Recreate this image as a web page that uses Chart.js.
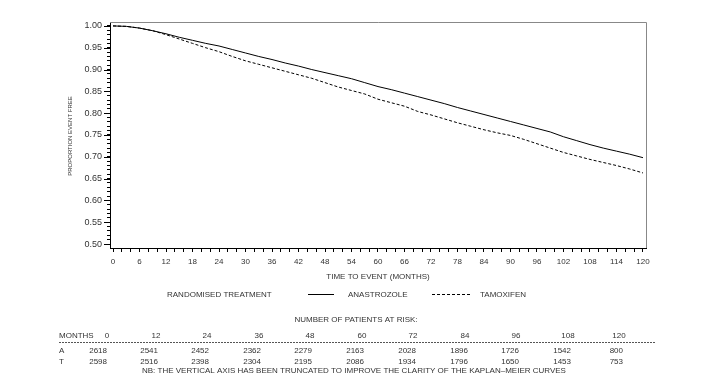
<!DOCTYPE html>
<html>
<head>
<meta charset="utf-8">
<script src="https://cdn.jsdelivr.net/npm/chart.js@4"></script>
<style>
html,body{margin:0;padding:0;background:#fff;}
canvas{display:block;}
</style>
</head>
<body>
<canvas id="c" width="712" height="392"></canvas>
<script>
// ---- data ----
const months = [0,3,6,9,12,15,18,21,24,27,30,33,36,39,42,45,48,51,54,57,60,63,66,69,72,75,78,81,84,87,90,93,96,99,102,105,108,111,114,117,120];
const anastrozole = [1.000,0.999,0.995,0.989,0.982,0.974,0.967,0.960,0.954,0.946,0.938,0.930,0.923,0.915,0.908,0.900,0.893,0.886,0.879,0.870,0.861,0.854,0.846,0.838,0.830,0.822,0.813,0.805,0.797,0.789,0.781,0.773,0.765,0.757,0.746,0.737,0.728,0.720,0.713,0.706,0.698];
const tamoxifen = [1.000,0.999,0.995,0.989,0.980,0.970,0.960,0.950,0.941,0.930,0.920,0.912,0.904,0.896,0.888,0.880,0.870,0.860,0.852,0.844,0.832,0.824,0.816,0.804,0.796,0.787,0.778,0.770,0.762,0.755,0.749,0.740,0.730,0.720,0.710,0.702,0.694,0.687,0.680,0.672,0.663];
const riskMonths = [0,12,24,36,48,60,72,84,96,108,120];
const riskA = [2618,2541,2452,2362,2279,2163,2028,1896,1726,1542,800];
const riskT = [2598,2516,2398,2304,2195,2086,1934,1796,1650,1453,753];
const seriesNames = ['ANASTROZOLE','TAMOXIFEN'];

const FONT = '"Liberation Sans", Arial, sans-serif';
const TXT = '#333';

// layout of risk table columns (pixels)
const headX = [107,156,207,259,310,362,413,465,516,568,619];
const valRight = [107,158,209,261,312,364,416,468,519,571,623];

const extras = {
  id: 'extras',
  afterDraw(chart) {
    const ctx = chart.ctx, a = chart.chartArea, y = chart.scales.y;
    ctx.save();
    // frame top/right
    ctx.strokeStyle = '#888'; ctx.lineWidth = 1;
    ctx.beginPath();
    ctx.moveTo(a.left, a.top + 0.5); ctx.lineTo(a.right + 0.5, a.top + 0.5); ctx.lineTo(a.right + 0.5, a.bottom);
    ctx.stroke();
    // longer major y ticks
    ctx.strokeStyle = '#000';
    ctx.beginPath();
    for (let i = 50; i <= 100; i += 5) {
      const py = Math.round(y.getPixelForValue(i / 100)) + 0.5;
      ctx.moveTo(a.left - 6, py); ctx.lineTo(a.left, py);
    }
    ctx.stroke();
    ctx.fillStyle = TXT;
    ctx.font = '6px ' + FONT;
    // y title
    ctx.save();
    ctx.translate(70, 136); ctx.rotate(-Math.PI / 2);
    ctx.textAlign = 'center'; ctx.textBaseline = 'middle';
    ctx.fillText('PROPORTION EVENT FREE', 0, 0);
    ctx.restore();
    ctx.font = '8px ' + FONT;
    ctx.textBaseline = 'middle';
    ctx.textAlign = 'center';
    ctx.fillText('TIME TO EVENT (MONTHS)', 378, 277);
    // legend
    ctx.textAlign = 'left';
    ctx.fillText('RANDOMISED TREATMENT', 167, 295);
    ctx.fillText(seriesNames[0], 348, 295);
    ctx.fillText(seriesNames[1], 480, 295);
    ctx.strokeStyle = '#000';
    ctx.beginPath(); ctx.moveTo(308, 294.5); ctx.lineTo(334, 294.5); ctx.stroke();
    ctx.setLineDash([3, 2]);
    ctx.beginPath(); ctx.moveTo(432, 294.5); ctx.lineTo(471, 294.5); ctx.stroke();
    // table
    ctx.textAlign = 'center';
    ctx.fillText('NUMBER OF PATIENTS AT RISK:', 356, 320);
    ctx.textAlign = 'left';
    ctx.fillText('MONTHS', 59, 336);
    ctx.fillText('A', 59, 351);
    ctx.fillText('T', 59, 362);
    riskMonths.forEach((m, i) => {
      ctx.textAlign = 'center';
      ctx.fillText(String(m), headX[i], 336);
      ctx.textAlign = 'right';
      ctx.fillText(String(riskA[i]), valRight[i], 351);
      ctx.fillText(String(riskT[i]), valRight[i], 362);
    });
    ctx.strokeStyle = '#555';
    ctx.setLineDash([2, 1]);
    ctx.beginPath(); ctx.moveTo(59, 342.5); ctx.lineTo(656, 342.5); ctx.stroke();
    ctx.setLineDash([]);
    ctx.textAlign = 'left';
    ctx.fillText('NB: THE VERTICAL AXIS HAS BEEN TRUNCATED TO IMPROVE THE CLARITY OF THE KAPLAN\u2013MEIER CURVES', 142, 371);
    ctx.restore();
  }
};

new Chart(document.getElementById('c'), {
  type: 'line',
  data: {
    datasets: [
      { label: seriesNames[0], data: months.map((m, i) => ({x: m, y: anastrozole[i]})),
        borderColor: '#000', borderWidth: 1, pointRadius: 0, tension: 0, fill: false },
      { label: seriesNames[1], data: months.map((m, i) => ({x: m, y: tamoxifen[i]})),
        borderColor: '#000', borderWidth: 1, borderDash: [3, 2], pointRadius: 0, tension: 0, fill: false }
    ]
  },
  options: {
    responsive: false,
    animation: false,
    devicePixelRatio: 1,
    layout: { padding: { left: 0, top: 22, right: 66, bottom: 114 } },
    plugins: { legend: { display: false }, tooltip: { enabled: false } },
    scales: {
      x: {
        type: 'linear', min: -0.68, max: 120.68,
        afterBuildTicks: s => { const t = []; for (let v = 0; v <= 120; v += 2) t.push({value: v}); s.ticks = t; },
        afterFit: s => { s.height = 30; },
        grid: { drawOnChartArea: false, tickLength: 4, color: '#000' },
        border: { display: true, color: '#000', width: 1 },
        ticks: { autoSkip: false, maxRotation: 0, padding: 5, color: TXT, font: { family: FONT, size: 8 },
          callback: v => (Math.round(v) % 6 === 0 ? String(Math.round(v)) : '') }
      },
      y: {
        type: 'linear', min: 0.491, max: 1.009,
        afterBuildTicks: s => { const t = []; for (let i = 50; i <= 100; i++) t.push({value: i / 100}); s.ticks = t; },
        afterFit: s => { s.width = 110; },
        grid: { drawOnChartArea: false, tickLength: 3, color: '#000' },
        border: { display: true, color: '#000', width: 1 },
        ticks: { autoSkip: false, padding: 5, color: TXT, font: { family: FONT, size: 9 },
          callback: v => { const k = Math.round(v * 100); return k % 5 === 0 ? (k / 100).toFixed(2) : ''; } }
      }
    }
  },
  plugins: [extras]
});
</script>
</body>
</html>
